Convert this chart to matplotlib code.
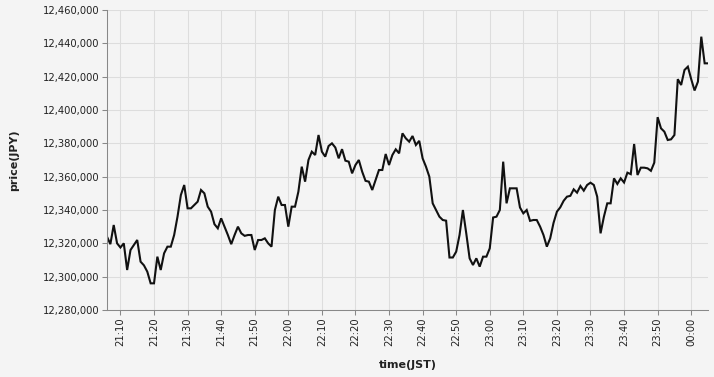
"""Recreate the 1-minute price line chart (JPY, JST)."""

import matplotlib

matplotlib.use("Agg", force=True)
import matplotlib.dates as mdates
import matplotlib.pyplot as plt
import pandas as pd
from matplotlib.ticker import FuncFormatter, MultipleLocator

# one price per minute, starting 21:06 JST
start_time = "2024-01-01 21:06"
prices = [
    12324000, 12319500, 12331000, 12320000, 12317500, 12320000, 12304000, 12316000, 12319000, 12322000,  # 21:06
    12309000, 12306800, 12303000, 12296000, 12296000, 12312000, 12304000, 12314000, 12318000, 12318000,  # 21:16
    12325000, 12336000, 12349000, 12355000, 12341000, 12341000, 12343000, 12345000, 12352000, 12350000,  # 21:26
    12342000, 12339000, 12331500, 12329000, 12335000, 12330000, 12325000, 12319500, 12325000, 12330000,  # 21:36
    12326000, 12324500, 12325000, 12325000, 12316000, 12322000, 12322000, 12323000, 12320000, 12318000,  # 21:46
    12340000, 12348000, 12343000, 12343000, 12330000, 12342000, 12342000, 12351000, 12366000, 12357000,  # 21:56
    12370000, 12375000, 12373000, 12385000, 12375000, 12372000, 12378400, 12380000, 12377500, 12371000,  # 22:06
    12376500, 12369600, 12369000, 12362000, 12367000, 12370000, 12363000, 12357500, 12357000, 12352000,  # 22:16
    12358000, 12364000, 12364000, 12373600, 12367000, 12373000, 12376400, 12374000, 12386000, 12383000,  # 22:26
    12381000, 12384400, 12379000, 12381500, 12371000, 12366000, 12360000, 12344000, 12340000, 12336000,  # 22:36
    12334000, 12333600, 12311500, 12311500, 12315000, 12325000, 12340000, 12326000, 12311000, 12307000,  # 22:46
    12311000, 12306000, 12312000, 12312000, 12317000, 12335500, 12336000, 12340000, 12369000, 12344000,  # 22:56
    12353000, 12353000, 12353000, 12341500, 12338000, 12340000, 12333500, 12334000, 12334000, 12330000,  # 23:06
    12325000, 12318000, 12323000, 12332300, 12339000, 12341600, 12345500, 12348000, 12348500, 12352400,  # 23:16
    12350400, 12354400, 12351600, 12355000, 12356400, 12355000, 12348000, 12326000, 12336000, 12344000,  # 23:26
    12344000, 12359000, 12355600, 12359000, 12356500, 12362400, 12361500, 12379600, 12361000, 12365400,  # 23:36
    12365400, 12365000, 12363500, 12368400, 12395700, 12389000, 12387000, 12382000, 12382400, 12385000,  # 23:46
    12418500, 12415000, 12424000, 12426000, 12418500, 12411700, 12417000, 12444000, 12428000, 12428000,  # 23:56
]
y_min, y_max, y_step = 12280000, 12460000, 20000

BG = "#f4f4f4"
GRID = "#dddddd"
AXIS = "#888888"
TEXT = "#222222"

times = pd.date_range(start=start_time, periods=len(prices), freq="min")

fig = plt.figure(figsize=(7.14, 3.77), dpi=100, facecolor=BG)
ax = fig.add_axes([107 / 714, 67 / 377, 601 / 714, 300 / 377], facecolor=BG)

ax.plot(times, prices, color="#111111", linewidth=1.5, solid_joinstyle="miter")

ax.set_xlim(times[0], times[-1])
ax.set_ylim(y_min, y_max)
ax.yaxis.set_major_locator(MultipleLocator(y_step))
ax.yaxis.set_major_formatter(FuncFormatter(lambda v, _: f"{v:,.0f}"))
ax.xaxis.set_major_locator(mdates.MinuteLocator(byminute=range(0, 60, 10)))
ax.xaxis.set_major_formatter(mdates.DateFormatter("%H:%M"))

ax.grid(True, color=GRID, linewidth=0.75)
ax.set_axisbelow(True)
for side in ("top", "right"):
    ax.spines[side].set_visible(False)
for side in ("left", "bottom"):
    ax.spines[side].set_color(AXIS)
    ax.spines[side].set_linewidth(0.75)

ax.tick_params(axis="both", colors=AXIS, labelcolor=TEXT, length=3.6, width=0.75, labelsize=7.2, pad=2)
ax.tick_params(axis="x", labelrotation=90)

ax.set_xlabel("time(JST)", fontsize=8, fontweight="bold", color=TEXT)
ax.set_ylabel("price(JPY)", fontsize=8, fontweight="bold", color=TEXT)
ax.xaxis.set_label_coords(0.5, -0.168)
ax.yaxis.set_label_coords(-0.147, 0.5)

fig.savefig("out.png", dpi=100, facecolor=BG)
plt.close(fig)
